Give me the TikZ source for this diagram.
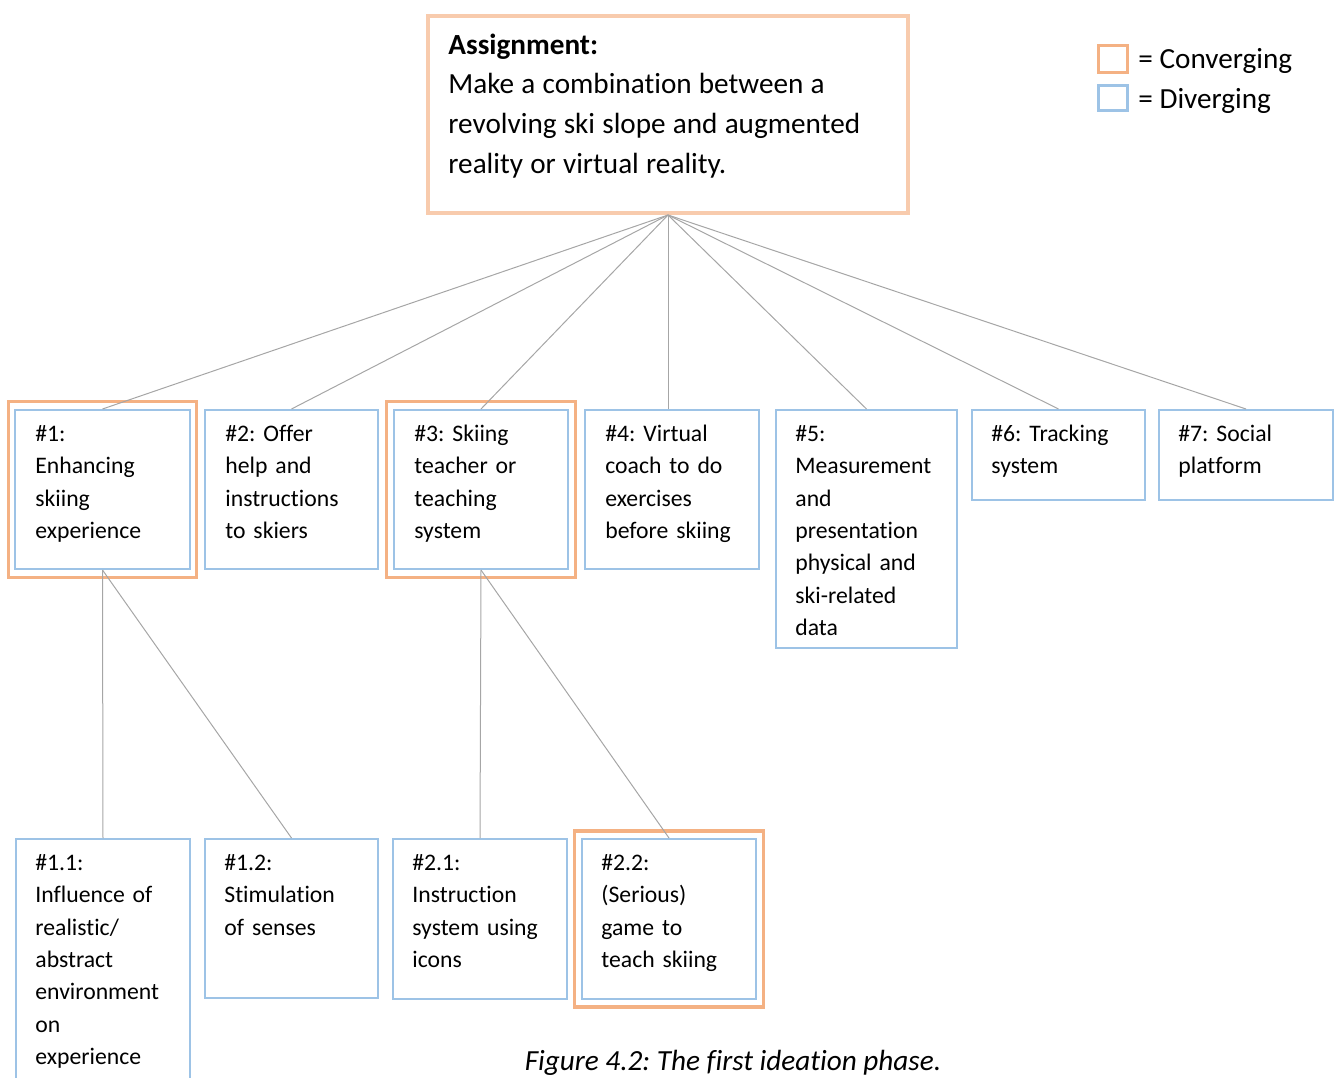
\documentclass[tikz,border=0pt]{standalone}
\usepackage{fontspec}
\setmainfont{Carlito}[Ligatures=NoCommon]
\frenchspacing
\newcommand\taskspacing{\spaceskip=3.6pt plus 1pt minus 0.5pt\relax}
\definecolor{divblue}{HTML}{9DC3E6}
\definecolor{convorange}{HTML}{F4B183}
\definecolor{taskorange}{HTML}{F8CBAD}
\definecolor{linkgray}{HTML}{A6A6A6}
\tikzset{
	link/.style={draw=linkgray, line width=0.5pt},
	divbox/.style={draw=divblue, line width=1pt, anchor=north west, inner sep=0pt},
	convbox/.style={draw=convorange, line width=1.8pt, inner sep=0pt, minimum width=94.5pt, minimum height=88pt},
	idea/.style={anchor=base west, inner sep=0pt, text width=#1, align=left, font=\fontsize{11.85}{16.15}\selectfont},
	idea/.default=80pt,
	big/.style={inner sep=0pt, font=\fontsize{14.6}{19.9}\selectfont}
}

\begin{document}
\begin{tikzpicture}[x=0.5pt, y=-0.5pt]
	\useasboundingbox (0,0) rectangle (1339,1077);
	\node [draw=taskorange, line width=2pt, anchor=north west, inner sep=0pt, minimum width=240pt, minimum height=98.5pt] (task) at (426,14) {};
	\node [idea=225pt, big, anchor=base west] (tasktext) at ([xshift=11pt, yshift=-20pt]task.north west)
		{\taskspacing\textbf{Assignment:}\\Make a combination between a\\revolving ski slope and augmented\\reality or virtual reality.};

	\node [draw=convorange, line width=1.5pt, inner sep=0pt, minimum width=14.5pt, minimum height=13.5pt] (convkey) at (1112.5,58.5) {};
	\node [draw=divblue, line width=1.5pt, inner sep=0pt, minimum width=14.5pt, minimum height=12.5pt] (divkey) at (1112.5,97.5) {};
	\node [big, anchor=base west] (convtext) at (1138,68) {= Converging};
	\node [big, anchor=base west] (divtext) at (1138,108) {= Diverging};

	\node [divbox, minimum width=87.5pt, minimum height=79.5pt] (i1) at (14,409) {};
	\node [divbox, minimum width=86.5pt, minimum height=79.5pt] (i2) at (204,409) {};
	\node [divbox, minimum width=87pt, minimum height=79.5pt] (i3) at (393,409) {};
	\node [divbox, minimum width=87pt, minimum height=79.5pt] (i4) at (584,409) {};
	\node [divbox, minimum width=90.5pt, minimum height=119pt] (i5) at (775,409) {};
	\node [divbox, minimum width=86.5pt, minimum height=45pt] (i6) at (971,409) {};
	\node [divbox, minimum width=87pt, minimum height=45pt] (i7) at (1158,409) {};
	\node [convbox, minimum width=94pt] (c1) at (i1.center) {};
	\node [convbox] (c3) at (i3.center) {};

	\node [divbox, minimum width=87pt, minimum height=150pt] (i11) at (15,838) {};
	\node [divbox, minimum width=86.5pt, minimum height=79.5pt] (i12) at (204,838) {};
	\node [divbox, minimum width=87pt, minimum height=80pt] (i21) at (392,838) {};
	\node [divbox, minimum width=87pt, minimum height=80pt] (i22) at (581,838) {};
	\node [convbox] (c22) at (i22.center) {};

	\node [idea] (t1) at ([xshift=10.5pt, yshift=-16.25pt]i1.north west) {\#1:\\Enhancing\\skiing\\experience};
	\node [idea] (t2) at ([xshift=10.5pt, yshift=-16.25pt]i2.north west) {\#2: Offer\\help and\\instructions\\to skiers};
	\node [idea] (t3) at ([xshift=10.5pt, yshift=-16.25pt]i3.north west) {\#3: Skiing\\teacher or\\teaching\\system};
	\node [idea] (t4) at ([xshift=10.5pt, yshift=-16.25pt]i4.north west) {\#4: Virtual\\coach to do\\exercises\\before skiing};
	\node [idea] (t5) at ([xshift=10pt, yshift=-16.25pt]i5.north west) {\#5:\\Measurement\\and\\presentation\\physical and\\ski-related\\data};
	\node [idea] (t6) at ([xshift=10pt, yshift=-16.25pt]i6.north west) {\#6: Tracking\\system};
	\node [idea] (t7) at ([xshift=10pt, yshift=-16.25pt]i7.north west) {\#7: Social\\platform};
	\node [idea] (t11) at ([xshift=10pt, yshift=-16.25pt]i11.north west) {\#1.1:\\Influence of\\realistic/\\abstract\\environment\\on\\experience};
	\node [idea] (t12) at ([xshift=10pt, yshift=-16.25pt]i12.north west) {\#1.2:\\Stimulation\\of senses};
	\node [idea] (t21) at ([xshift=10pt, yshift=-16.25pt]i21.north west) {\#2.1:\\Instruction\\system using\\icons};
	\node [idea] (t22) at ([xshift=10pt, yshift=-16.25pt]i22.north west) {\#2.2:\\(Serious)\\game to\\teach skiing};

	\foreach \i in {1,2,3,5,6,7}
		\draw [link] (task.south) -- (i\i.north);
	\draw [link] (task.south) -- (task.south |- i4.north);
	\draw [link] (i1.south) -- (i11.north);
	\draw [link] (i1.south) -- (i12.north);
	\draw [link] (i3.south) -- (i21.north);
	\draw [link] (i3.south) -- (i22.north);

	\node [big, font=\fontsize{14.6}{19.9}\selectfont\itshape, anchor=base] (caption) at (733,1070) {Figure 4.2: The first ideation phase.};
\end{tikzpicture}
\end{document}
